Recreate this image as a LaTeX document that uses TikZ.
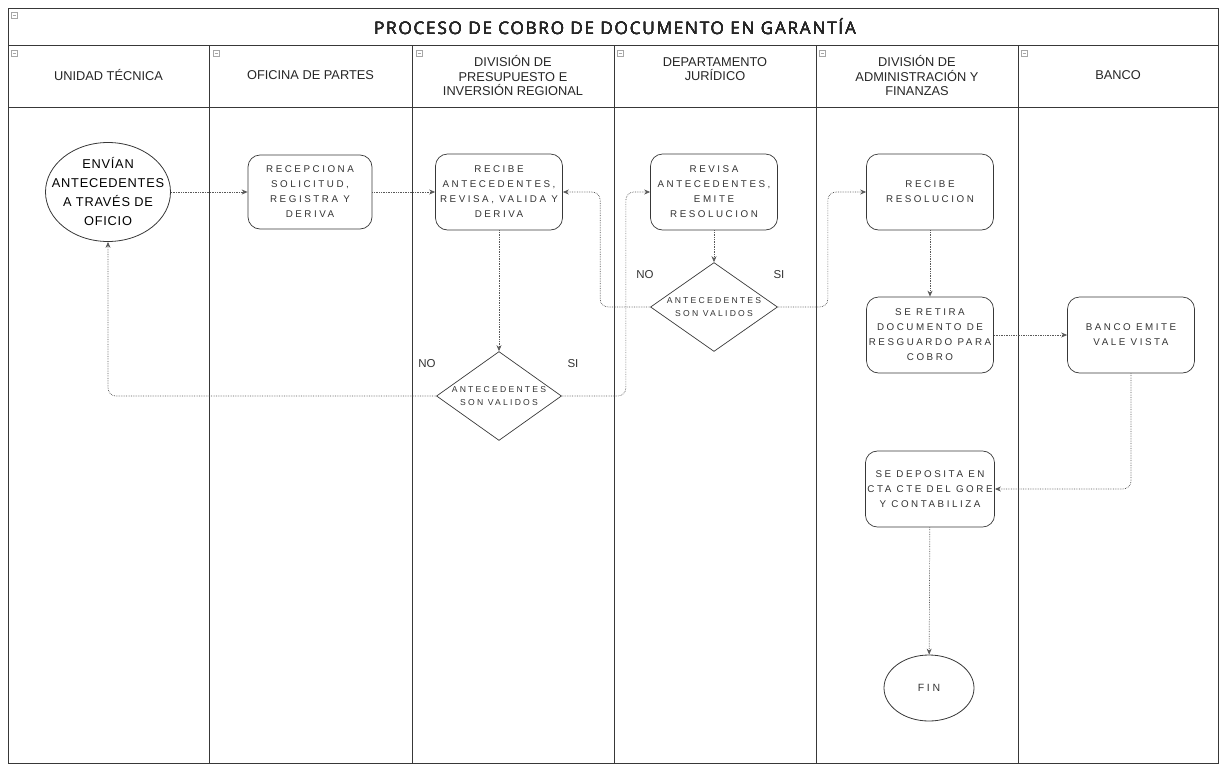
\documentclass[tikz,border=0pt]{standalone}
\usepackage{fontspec}
\setmainfont{Liberation Sans}
\newfontfamily\titlefont[LetterSpace=10]{Open Sans}
\newfontfamily\boxfont[LetterSpace=26]{Liberation Sans}
\newfontfamily\ovalfont[LetterSpace=6]{Liberation Sans}
\usetikzlibrary{shapes.geometric,arrows.meta}
\definecolor{inkc}{gray}{0.22}
\definecolor{connc}{gray}{0.35}
\tikzset{
  frameline/.style={draw=inkc, line width=0.9pt},
  laneline/.style={draw=inkc, line width=0.8pt},
  lanehead/.style={align=center, font=\fontsize{12.8}{14.5}\selectfont, text=black!85},
  taskbox/.style={draw=inkc, line width=0.7pt, rectangle, rounded corners=12pt,
    minimum width=127pt, minimum height=76pt, align=center, inner sep=2pt,
    font=\boxfont\fontsize{9.8}{15}\selectfont, text=black!80},
  startend/.style={draw=inkc, line width=0.8pt, ellipse, align=center},
  decision/.style={draw=inkc, line width=0.7pt, diamond, minimum width=127pt,
    minimum height=88pt, inner sep=-6pt, align=center,
    font=\boxfont\fontsize{8.6}{12.5}\selectfont, text=black!80},
  conn/.style={draw=connc, line width=0.7pt, densely dotted, rounded corners=8pt,
    -{Stealth[length=6pt,width=5pt]}},
  branchlbl/.style={font=\fontsize{11.5}{13}\selectfont, text=black!80},
  collapse/.style={draw=gray!70, line width=0.4pt}
}
\newcommand{\collapsemark}[2]{%
  \draw[collapse] (#1,#2) rectangle ++(6,6);
  \draw[collapse] (#1+1.5,#2+3) -- ++(3,0);}
\begin{document}
\begin{tikzpicture}[x=1pt,y=-1pt]
\useasboundingbox (0,0) rectangle (1219,766);
% outer frame, title row and lane header row
\draw[frameline] (8,8) rectangle (1218,763);
\draw[frameline] (8,45) -- (1218,45);
\draw[frameline] (8,107) -- (1218,107);
\foreach \lx in {209,412,614,816,1018}
  \draw[laneline] (\lx,45) -- (\lx,763);
% collapse markers
\collapsemark{11}{12}
\foreach \lx in {11,213,416,617,819,1021}
  \collapsemark{\lx}{50}
% title
\node[text=black!85] (title) at (615,27) {\titlefont\fontsize{17.2}{19}\selectfont PROCESO DE COBRO DE DOCUMENTO EN GARANTÍA};
% lane headers
\node[lanehead] (h1) at (108.5,75) {UNIDAD TÉCNICA};
\node[lanehead] (h2) at (310.5,75) {OFICINA DE PARTES};
\node[lanehead] (h3) at (513,76) {DIVISIÓN DE\\PRESUPUESTO E\\INVERSIÓN REGIONAL};
\node[lanehead] (h4) at (715,69) {DEPARTAMENTO\\JURÍDICO};
\node[lanehead] (h5) at (917,76) {DIVISIÓN DE\\ADMINISTRACIÓN Y\\FINANZAS};
\node[lanehead] (h6) at (1118,75) {BANCO};
% flow nodes
\node[startend, minimum width=125pt, minimum height=99pt, inner xsep=-13pt, inner ysep=0pt,
  font=\ovalfont\fontsize{12.8}{19}\selectfont] (envian) at (108,192)
  {ENVÍAN\\ANTECEDENTES\\A TRAVÉS DE\\OFICIO};
\node[taskbox, minimum width=124pt, minimum height=74pt] (recep) at (310,192)
  {RECEPCIONA\\SOLICITUD,\\REGISTRA Y\\DERIVA};
\node[taskbox] (recibeA) at (499,192)
  {RECIBE\\ANTECEDENTES,\\REVISA, VALIDA Y\\DERIVA};
\node[taskbox] (revisa) at (714,192)
  {REVISA\\ANTECEDENTES,\\EMITE\\RESOLUCION};
\node[taskbox] (recibeR) at (930,192)
  {RECIBE\\RESOLUCION};
\node[decision] (dj) at (714,307) {ANTECEDENTES\\SON VALIDOS};
\node[decision, minimum width=125pt] (dp) at (499,396) {ANTECEDENTES\\SON VALIDOS};
\node[taskbox] (retira) at (930,335)
  {SE RETIRA\\DOCUMENTO DE\\RESGUARDO PARA\\COBRO};
\node[taskbox] (banco) at (1131,335)
  {BANCO EMITE\\VALE VISTA};
\node[taskbox] (deposita) at (930,489)
  {SE DEPOSITA EN\\CTA CTE DEL GORE\\Y CONTABILIZA};
\node[startend, minimum width=90pt, minimum height=66pt, inner sep=0pt,
  font=\boxfont\fontsize{10.5}{12}\selectfont, text=black!80] (fin) at (929,688) {FIN};
% branch labels
\node[branchlbl] (noP) at (427,364) {NO};
\node[branchlbl] (siP) at (573,364) {SI};
\node[branchlbl] (noJ) at (645,275) {NO};
\node[branchlbl] (siJ) at (779,275) {SI};
% connectors
\draw[conn] (envian) -- (recep);
\draw[conn] (recep) -- (recibeA);
\draw[conn] (recibeA) -- (dp);
\draw[conn] (dp.west) -| (envian.south);
\draw[conn] (dp.east) -- ++(64,0) |- (revisa.west);
\draw[conn] (revisa) -- (dj);
\draw[conn] (dj.west) -- ++(-50,0) |- (recibeA.east);
\draw[conn] (dj.east) -- ++(50,0) |- (recibeR.west);
\draw[conn] (recibeR) -- (retira);
\draw[conn] (retira) -- (banco);
\draw[conn] (banco.south) |- (deposita.east);
\draw[conn] (deposita) -- (fin);
\end{tikzpicture}
\end{document}
